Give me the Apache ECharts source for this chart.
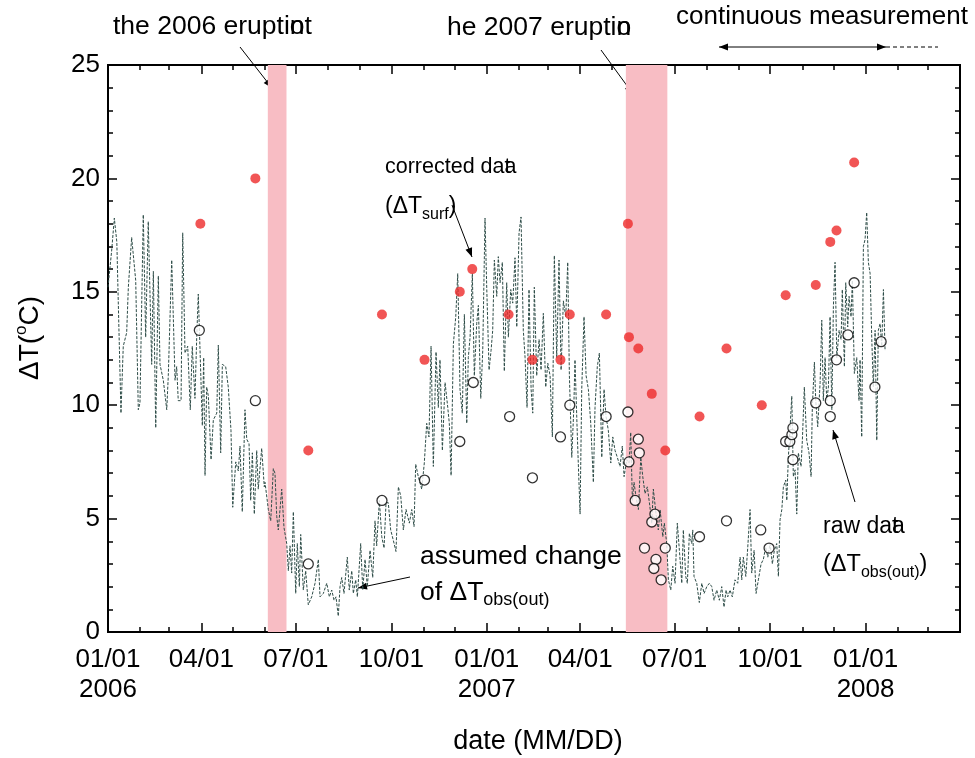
<!DOCTYPE html>
<html>
<head>
<meta charset="utf-8">
<script src="https://cdn.jsdelivr.net/npm/echarts@6/dist/echarts.min.js"></script>
<style>
  html, body { margin: 0; padding: 0; background: #ffffff; }
  #chart { width: 975px; height: 758px; }
</style>
</head>
<body>
<div id="chart"></div>
<script>
// ---- data -------------------------------------------------------------
const axisStart = '2006-01-01';
const axisEnd = '2008-04-01';
const yTicks = [0, 5, 10, 15, 20, 25];

// eruption periods (shaded)
const eruptionStarts = ['2006-06-04', '2007-05-15'];
const eruptionEnds = ['2006-06-22', '2007-06-24'];

// raw data, dT obs(out)
const rawDates = [
  '2006-03-30', '2006-05-23', '2006-07-13', '2006-09-22', '2006-11-02', '2006-12-06', '2006-12-19',
  '2007-01-23', '2007-02-14', '2007-03-13', '2007-03-22', '2007-04-26', '2007-05-17', '2007-05-18',
  '2007-05-27', '2007-05-28', '2007-05-24', '2007-06-02', '2007-06-09', '2007-06-12', '2007-06-13',
  '2007-06-11', '2007-06-18', '2007-06-22', '2007-07-25', '2007-08-20', '2007-09-22', '2007-09-30',
  '2007-10-16', '2007-10-20', '2007-10-22', '2007-10-23', '2007-10-23', '2007-11-14', '2007-11-28',
  '2007-11-28', '2007-12-04', '2007-12-15', '2007-12-21', '2008-01-10', '2008-01-16'
];
const rawValues = [
  13.3, 10.2, 3.0, 5.8, 6.7, 8.4, 11.0,
  9.5, 6.8, 8.6, 10.0, 9.5, 9.7, 7.5,
  8.5, 7.9, 5.8, 3.7, 4.85, 5.2, 3.2,
  2.8, 2.3, 3.7, 4.2, 4.9, 4.5, 3.7,
  8.4, 8.4, 8.7, 9.0, 7.6, 10.1, 10.2,
  9.5, 12.0, 13.1, 15.4, 10.8, 12.8
];

// corrected data, dT surf
const corrDates = [
  '2006-03-31', '2006-05-23', '2006-07-13', '2006-09-22', '2006-11-02', '2006-12-06', '2006-12-18',
  '2007-01-22', '2007-02-14', '2007-03-13', '2007-03-22', '2007-04-26', '2007-05-17', '2007-05-18',
  '2007-05-27', '2007-06-09', '2007-06-22', '2007-07-25', '2007-08-20', '2007-09-23', '2007-10-16',
  '2007-11-14', '2007-11-28', '2007-12-04', '2007-12-21'
];
const corrValues = [
  18.0, 20.0, 8.0, 14.0, 12.0, 15.0, 16.0,
  14.0, 12.0, 12.0, 14.0, 14.0, 18.0, 13.0,
  12.5, 10.5, 8.0, 9.5, 12.5, 10.0, 14.85,
  15.3, 17.2, 17.7, 20.7
];

// assumed change of dT obs(out): elapsed days since 2006-01-01 and value
const trendDays = [
  0, 3.5, 6.1, 8.5, 12.5, 14.7, 18.0, 19.6, 22.8, 26.7, 29.2, 30.8, 34.0, 36.3, 38.8, 42.1, 43.7, 46.0,
  48.5, 50.1, 53.3, 56.6, 58.1, 61.4, 64.6, 66.2, 67.7, 70.4, 72.0, 74.2, 76.8, 79.3, 81.2, 83.8, 85.5,
  87.0, 88.7, 90.9, 92.2, 93.5, 95.1, 96.7, 99.3, 101.5, 104.8, 106.3, 108.6, 110.2, 113.4, 115.9, 118.5,
  120.2, 123.1, 125.6, 127.2, 129.4, 132.0, 133.7, 135.9, 137.5, 139.1, 141.0, 143.3, 144.8, 148.1, 150.6,
  151.3, 154.5, 156.8, 159.3, 160.9, 162.6, 164.1, 167.4, 169.6, 172.2, 173.8, 175.4, 177.0, 178.6, 180.9,
  182.4, 184.4, 185.7, 188.2, 190.5, 193.0, 196.3, 199.5, 202.7, 204.3, 207.5, 210.8, 213.3, 215.6, 217.8,
  219.7, 221.9, 223.6, 225.2, 227.4, 230.6, 232.5, 234.9, 236.4, 238.7, 240.3, 243.5, 245.5, 247.7, 249.9,
  252.5, 255.1, 257.3, 258.9, 261.5, 263.8, 266.0, 267.9, 270.1, 272.4, 274.9, 277.5, 279.8, 282.1, 284.6,
  287.2, 290.4, 292.7, 294.9, 296.5, 299.0,
  302.3, 304.8, 307.1, 309.3, 311.3, 313.5, 316.1, 318.3, 319.9, 322.2, 324.8, 327.4, 328.9, 330.6, 332.8,
  335.1, 337.0, 339.2, 341.4, 343.4, 345.7, 347.2, 348.9, 351.1, 353.0, 355.3, 356.9, 359.2, 361.1, 363.3,
  365.0, 367.2, 369.1, 370.7, 372.3, 374.6, 376.1, 377.8, 380.0, 381.9, 384.2, 385.8, 388.1, 390.0, 392.2,
  393.9, 396.1, 398.0, 400.2, 401.9, 403.8, 405.7, 407.7, 409.3, 410.8, 413.1, 415.4, 417.3, 419.5, 421.8,
  423.8, 426.0, 428.2, 430.1, 432.4, 434.6, 436.6, 438.8, 441.1, 443.0, 444.6, 446.9, 448.8,
  450.0, 452.3, 454.9, 456.5, 458.7, 460.7, 462.9, 465.2, 467.7, 469.3, 471.5, 473.5, 475.8, 478.0, 479.9,
  482.1, 484.5, 486.4, 488.6, 490.8, 493.4, 495.6, 497.3, 499.9, 502.1, 503.7, 505.3, 506.9, 508.8, 511.1,
  513.4, 515.3, 517.5, 519.7, 521.7, 524.0, 525.5, 528.1, 530.3, 532.0, 534.6, 536.1, 538.4, 540.0, 542.3,
  544.2, 546.4, 548.6, 550.6, 552.9, 554.4, 556.7, 558.3, 560.2, 562.5, 563.5, 564.7, 567.3, 569.8, 572.2,
  574.4, 577.0, 579.5, 581.8, 584.0, 586.6, 589.1, 591.4, 593.6, 595.6,
  597.2, 599.4, 601.6, 604.2, 606.8, 609.1, 610.7, 612.2, 614.6, 616.5, 618.7, 620.3, 622.6, 624.5, 626.7,
  629.3, 631.5, 633.8, 635.8, 638.0, 640.2, 642.1, 644.4, 646.0, 647.6, 649.3, 650.8, 653.1, 654.1, 655.6,
  657.3, 658.9, 660.4, 662.1, 663.7, 665.2, 667.8, 669.1, 671.0, 673.3, 675.5, 677.5, 678.7, 680.7, 682.0,
  683.9, 686.2, 687.8, 689.3, 691.0, 692.6, 694.2, 695.8, 697.5, 699.0, 700.6, 702.3, 704.5, 706.4, 707.6,
  709.6, 710.9, 712.8, 714.1, 716.0, 717.3, 719.2, 721.5, 723.7, 724.7, 726.3, 727.9, 729.5, 731.1, 732.7,
  734.4, 736.0, 737.5, 739.2, 740.8, 742.3, 744.0, 745.6, 747.2, 748.8
];
const trendValues = [
  15.2, 16.8, 18.25, 17.2, 9.65, 12.6, 13.2, 15.2, 17.4, 15.5, 9.8, 10.1, 18.4, 13.0, 18.1, 11.8, 15.9, 9.0,
  15.7, 11.8, 11.1, 9.8, 11.3, 16.4, 11.1, 11.7, 10.2, 10.2, 17.6, 12.3, 12.6, 9.8, 12.6, 10.3, 13.0,
  14.9, 12.4, 9.1, 12.1, 6.9, 10.8, 10.4, 7.6, 9.35, 9.65, 12.65, 7.9, 11.8, 11.7, 10.8, 8.9,
  5.5, 7.5, 7.1, 8.2, 5.3, 9.8, 8.5, 8.3, 5.8, 7.9, 5.2, 8.0, 6.3, 8.1, 6.4,
  6.6, 5.4, 4.9, 7.2, 7.0, 5.1, 4.5, 6.3, 4.6, 3.9, 2.7, 3.8, 2.6, 5.3, 1.7,
  3.9, 2.0, 4.3, 1.85, 2.7, 1.2, 1.55, 2.15, 3.2, 1.55, 1.7, 2.15, 1.55, 1.85, 1.4,
  1.55, 0.7, 2.0, 2.4, 1.7, 3.3, 1.85, 2.7, 1.7, 2.3, 1.55, 3.9, 1.85, 3.2, 2.0,
  3.6, 2.4, 4.9, 3.8, 5.8, 4.2, 3.7, 5.7, 5.7, 4.5, 4.05, 3.55, 6.4, 6.0, 4.5,
  5.4, 4.8, 5.4, 4.65, 7.4, 6.85,
  6.3, 7.45, 9.2, 8.6, 12.6, 7.3, 12.35, 9.9, 12.0, 8.0, 11.0, 9.9, 9.2, 6.9, 12.7,
  13.9, 15.8, 10.7, 9.65, 14.0, 9.2, 12.1, 13.0, 15.8, 11.3, 13.6, 14.4, 10.3, 12.4, 18.25,
  15.1, 11.55, 12.4, 13.3, 16.4, 14.8, 16.55, 15.4, 16.3, 11.5, 15.4, 13.0, 15.1, 14.5, 16.5,
  13.45, 17.6, 18.3, 13.3, 12.1, 9.9, 15.1, 10.7, 9.65, 15.2, 11.3, 12.9, 11.55, 14.05, 10.8,
  11.85, 11.3, 8.6, 16.6, 12.1, 16.4, 11.55, 14.6, 13.9, 16.3, 11.3, 7.7, 9.8,
  12.0, 8.6, 5.2, 10.7, 13.9, 11.3, 10.7, 9.2, 6.6, 9.9, 11.7, 12.3, 7.7, 10.7, 9.5,
  8.9, 7.45, 8.6, 8.0, 7.7, 7.3, 8.2, 6.85, 7.6, 7.45, 8.8, 5.8, 6.6, 5.95, 5.4,
  7.7, 6.85, 6.1, 6.4, 5.7, 4.8, 6.3, 5.2, 4.5, 5.4, 4.2, 4.8, 3.9, 2.3, 1.85,
  2.9, 2.15, 4.8, 3.6, 2.15, 4.5, 2.45, 2.15, 4.35, 3.9, 4.5, 2.45, 2.15, 1.3, 2.15,
  1.7, 2.0, 2.15, 2.0, 1.4, 1.85, 1.4, 2.0, 1.1, 1.85,
  1.55, 1.85, 1.55, 2.3, 2.15, 3.3, 2.3, 3.3, 2.45, 3.75, 5.4, 2.6, 3.6, 1.7, 2.3,
  3.0, 3.2, 3.75, 3.3, 3.9, 3.0, 3.6, 3.9, 2.45, 4.95, 5.4, 6.4, 6.7, 5.8, 7.7,
  9.05, 10.4, 6.85, 7.15, 5.2, 7.9, 7.3, 8.45, 10.8, 8.45, 7.9, 6.85, 9.9, 11.9, 10.2,
  9.05, 11.0, 13.75, 10.2, 12.1, 10.2, 10.8, 13.9, 9.8, 14.35, 16.3, 12.1, 13.3, 12.9, 15.1,
  11.7, 15.4, 13.45, 14.8, 13.9, 15.5, 11.4, 12.1, 10.2, 12.0, 8.6, 17.0, 17.3, 18.5, 16.3,
  15.8, 12.9, 10.8, 13.3, 8.45, 13.3, 13.6, 12.6, 15.1, 12.4
];

// ---- helpers ----------------------------------------------------------
const DAY = 86400000;
function ts(s) {
  const p = s.split('-').map(Number);
  return Date.UTC(p[0], p[1] - 1, p[2]);
}
const t0 = ts(axisStart);
const t1 = ts(axisEnd);

// month starts across the axis; every third one is a quarter
const monthTicks = [];
const quarterTicks = [];
{
  let y = 2006, m = 0;
  while (Date.UTC(y, m, 1) <= t1) {
    const v = Date.UTC(y, m, 1);
    monthTicks.push(v);
    if (m % 3 === 0) quarterTicks.push(v);
    m++;
    if (m === 12) { m = 0; y++; }
  }
}
// labels stop at the last new-year tick
const labelTicks = quarterTicks.filter(v => v <= Date.UTC(2008, 0, 1));
function pad(n) { return (n < 10 ? '0' : '') + n; }
function dateLabel(v) {
  const d = new Date(v);
  const s = pad(d.getUTCMonth() + 1) + '/' + pad(d.getUTCDate());
  return d.getUTCMonth() === 0 ? s + '\n' + d.getUTCFullYear() : s;
}

const FONT = '"Liberation Sans", Arial, Helvetica, sans-serif';
const measureCtx = document.createElement('canvas').getContext('2d');
function textWidth(str, size) {
  measureCtx.font = size + 'px ' + FONT;
  return measureCtx.measureText(str).width;
}
function plainText(x, y, str, size) {
  return { type: 'text', x: x, y: y, style: { text: str, fill: '#000', fontSize: size, fontFamily: FONT, align: 'left', verticalAlign: 'middle' } };
}
// prefix, two glyphs printed on top of each other, then a suffix
function overprint(x, y, size, prefix, a, b, suffix) {
  const w = textWidth(prefix, size);
  const wa = Math.max(textWidth(a, size), textWidth(b, size));
  const out = [plainText(x, y, prefix, size), plainText(x + w, y, a, size), plainText(x + w, y, b, size)];
  if (suffix) out.push(plainText(x + w + wa, y, suffix, size));
  return out;
}
function richText(x, y, str, size, subSize) {
  return {
    type: 'text', x: x, y: y,
    style: {
      text: str, fill: '#000', fontFamily: FONT, align: 'left', verticalAlign: 'middle',
      rich: {
        m: { fontSize: size, fontFamily: FONT, lineHeight: 32, verticalAlign: 'middle' },
        s: { fontSize: subSize, fontFamily: FONT, lineHeight: 16, verticalAlign: 'bottom' }
      }
    }
  };
}
function arrowHead(x1, y1, x2, y2) {
  const a = Math.atan2(y2 - y1, x2 - x1);
  const L = 9, W = 3.5;
  const bx = x2 - L * Math.cos(a), by = y2 - L * Math.sin(a);
  return {
    type: 'polygon',
    shape: { points: [[x2, y2], [bx - W * Math.sin(a), by + W * Math.cos(a)], [bx + W * Math.sin(a), by - W * Math.cos(a)]] },
    style: { fill: '#000' }
  };
}
function arrow(x1, y1, x2, y2) {
  return [
    { type: 'line', shape: { x1: x1, y1: y1, x2: x2, y2: y2 }, style: { stroke: '#000', lineWidth: 1 } },
    arrowHead(x1, y1, x2, y2)
  ];
}

// ---- chart ------------------------------------------------------------
const chart = echarts.init(document.getElementById('chart'), null, { renderer: 'canvas' });

const trendData = trendDays.map((d, i) => [t0 + d * DAY, trendValues[i]]);
const rawData = rawDates.map((d, i) => [ts(d), rawValues[i]]);
const corrData = corrDates.map((d, i) => [ts(d), corrValues[i]]);
const eruptionAreas = eruptionStarts.map((s, i) => [{ xAxis: ts(s) }, { xAxis: ts(eruptionEnds[i]) }]);

const axisLineStyle = { show: true, lineStyle: { color: '#000', width: 2 } };
function xAxisDef(position, ticks, len, withLabels) {
  return {
    type: 'value', position: position, min: t0, max: t1,
    axisLine: axisLineStyle,
    splitLine: { show: false },
    axisTick: { show: true, inside: true, length: len, customValues: ticks, lineStyle: { color: '#000', width: 1.5 } },
    axisLabel: withLabels ? {
      show: true, customValues: labelTicks, formatter: dateLabel, color: '#000',
      fontSize: 26, fontFamily: FONT, lineHeight: 30, margin: 13
    } : { show: false }
  };
}
function yAxisDef(position, withLabels) {
  return {
    type: 'value', position: position, min: 0, max: 25, interval: 5,
    axisLine: axisLineStyle,
    splitLine: { show: false },
    axisTick: { show: true, inside: true, length: 9, lineStyle: { color: '#000', width: 1.5 } },
    minorTick: { show: true, splitNumber: 5, length: 5, lineStyle: { color: '#000', width: 1.5 } },
    minorSplitLine: { show: false },
    axisLabel: withLabels ? {
      show: true, color: '#000', fontSize: 26, fontFamily: FONT, margin: 8,
      customValues: yTicks
    } : { show: false }
  };
}

const graphics = [].concat(
  overprint(113, 27, 26.5, 'the 2006 erupti', 'o', 'n', 't'),
  arrow(240, 47, 272, 88),
  overprint(447, 28, 26.5, 'he 2007 erupti', 'o', 'n', ''),
  arrow(601, 50, 633, 94),
  [plainText(676, 17, 'continuous measurement', 26)],
  arrow(800, 47, 719, 47),
  arrow(800, 47, 886, 47),
  [{ type: 'line', shape: { x1: 886, y1: 47, x2: 938, y2: 47 }, style: { stroke: '#000', lineWidth: 1, lineDash: [4, 3] } }],
  overprint(385, 167, 21.5, 'corrected da', 't', 'a', ''),
  [richText(385, 207, '{m|(\u0394T}{s|surf}{m|)}', 23, 16)],
  arrow(452, 205, 472, 257),
  [plainText(420, 557, 'assumed change', 26.5)],
  [richText(420, 593, '{m|of \u0394T}{s|obs(out)}', 26.5, 18)],
  arrow(410, 577, 358, 588),
  overprint(823, 527, 23, 'raw da', 't', 'a', ''),
  [richText(823, 565, '{m|(\u0394T}{s|obs(out)}{m|)}', 23.5, 16)],
  arrow(855, 502, 833, 430),
  [{
    type: 'text', x: 30, y: 338, rotation: Math.PI / 2,
    style: {
      text: '{m|\u0394T(}{u|o}{m|C)}', fill: '#000', fontFamily: FONT, align: 'center', verticalAlign: 'middle',
      rich: {
        m: { fontSize: 28, fontFamily: FONT, lineHeight: 34, verticalAlign: 'middle' },
        u: { fontSize: 17, fontFamily: FONT, lineHeight: 17, verticalAlign: 'top' }
      }
    }
  }],
  [{ type: 'text', x: 538, y: 742, style: { text: 'date (MM/DD)', fill: '#000', fontSize: 27, fontFamily: FONT, align: 'center', verticalAlign: 'middle' } }]
);

chart.setOption({
  animation: false,
  backgroundColor: '#ffffff',
  grid: { left: 108, top: 65, right: 15, bottom: 126, containLabel: false, outerBoundsMode: 'none' },
  xAxis: [
    xAxisDef('bottom', quarterTicks, 9, true),
    xAxisDef('bottom', monthTicks, 5, false),
    xAxisDef('top', quarterTicks, 9, false),
    xAxisDef('top', monthTicks, 5, false)
  ],
  yAxis: [yAxisDef('left', true), yAxisDef('right', false)],
  series: [
    {
      name: 'eruption', type: 'scatter', data: [], z: 1,
      markArea: { silent: true, itemStyle: { color: '#f8bdc4' }, data: eruptionAreas }
    },
    {
      name: 'assumed change', type: 'line', data: trendData, z: 2,
      symbol: 'none', smooth: false,
      lineStyle: { color: '#2e4d48', width: 1, type: [3, 1.5] }
    },
    {
      name: 'raw data', type: 'scatter', data: rawData, z: 3,
      symbol: 'circle', symbolSize: 10,
      itemStyle: { color: '#ffffff', borderColor: '#000', borderWidth: 1.3 }
    },
    {
      name: 'corrected data', type: 'scatter', data: corrData, z: 4,
      symbol: 'circle', symbolSize: 10,
      itemStyle: { color: '#ee2a2a' }
    }
  ],
  graphic: graphics
});
</script>
</body>
</html>
